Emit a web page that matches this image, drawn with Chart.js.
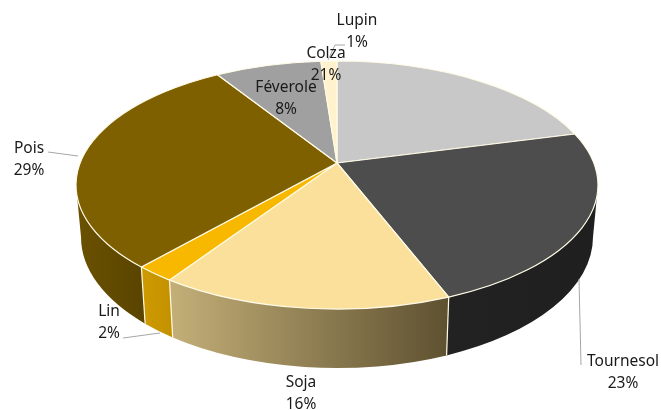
<!DOCTYPE html>
<html>
<head>
<meta charset="utf-8">
<style>
html, body { margin: 0; padding: 0; background: #fff; }
</style>
<script src="https://cdn.jsdelivr.net/npm/chart.js@4"></script>
</head>
<body>
<canvas id="pie" width="661" height="410"></canvas>
<script>
// values start at 12 o'clock and go clockwise
var categories = ['Colza', 'Tournesol', 'Soja', 'Lin', 'Pois', 'Féverole', 'Lupin'];
var shares = [21, 23, 15.5, 2.1, 29.3, 7.9, 1.2];
var topColors = ['#c8c8c8', '#4d4d4d', '#fae09a', '#f8b800', '#7f6000', '#a0a0a0', '#fff2cc'];
var wallLeft = ['#8c8c8c', '#222222', '#c4af78', '#cf9a00', '#6b5100', '#707070', '#b2a98e'];
var wallRight = ['#8c8c8c', '#1f1f1f', '#5e5130', '#c49200', '#5a4400', '#707070', '#b2a98e'];

// label placement, [x of centre, y of first line], same order as categories
var labelAt = [[326, 53.5], [623, 361.5], [301, 382.5], [109, 311.5], [29, 148.5], [286, 87.5], [357, 20.5]];
var leaders = [
    [[345, 45], [335, 45], [328, 60]],
    [[48, 152], [78, 156]],
    [[123, 338], [160, 333]],
    [[579, 279], [581, 365]]
];

// projection of the pie: top rim, bottom rim and the point where the slices meet
var top3d = { x: 337, y: 185, rx: 261, ry: 124 };
var bottom3d = { x: 337, y: 237, rx: 256, ry: 131 };
var apexY = 163;

// where a ray from the apex hits the rim, as an ellipse parameter
function rimAngle(a) {
    var k = (top3d.y - apexY) / top3d.ry;
    var dx = Math.cos(a), dy = Math.sin(a);
    var t = k * dy + Math.sqrt(k * k * dy * dy - k * k + 1);
    return Math.atan2(t * dy - k, t * dx);
}

function unwrap(from, to) {
    while (to <= from) to += Math.PI * 2;
    return to;
}

function rimPoint(e, a) {
    return [e.x + e.rx * Math.cos(a), e.y + e.ry * Math.sin(a)];
}

var pie3d = {
    id: 'pie3d',
    beforeDatasetsDraw: function(chart) {
        var ctx = chart.ctx;
        var arcs = chart.getDatasetMeta(0).data;
        var slices = arcs.map(function(arc, i) {
            var s = rimAngle(arc.startAngle);
            if (s < -Math.PI / 2 - 0.001) s += Math.PI * 2;
            return { i: i, from: s, to: unwrap(s, rimAngle(arc.endAngle)), color: arc.options.backgroundColor };
        });

        ctx.save();
        ctx.strokeStyle = '#fffbe6';
        ctx.lineWidth = 1.2;
        ctx.lineJoin = 'round';

        // side wall, only the part of the rim that faces us
        slices.forEach(function(s) {
            var a = Math.max(s.from, 0), b = Math.min(s.to, Math.PI);
            if (b <= a) return;
            var xa = top3d.x + top3d.rx * Math.cos(a), xb = top3d.x + top3d.rx * Math.cos(b);
            var g = ctx.createLinearGradient(Math.min(xa, xb), 0, Math.max(xa, xb), 0);
            g.addColorStop(0, wallLeft[s.i]);
            g.addColorStop(1, wallRight[s.i]);
            ctx.beginPath();
            ctx.ellipse(top3d.x, top3d.y, top3d.rx, top3d.ry, 0, a, b);
            ctx.ellipse(bottom3d.x, bottom3d.y, bottom3d.rx, bottom3d.ry, 0, b, a, true);
            ctx.closePath();
            ctx.fillStyle = g;
            ctx.fill();
        });

        // pale seams between the walls
        slices.forEach(function(s) {
            if (s.to <= 0 || s.to >= Math.PI) return;
            var p = rimPoint(top3d, s.to), q = rimPoint(bottom3d, s.to);
            ctx.beginPath();
            ctx.moveTo(p[0], p[1]);
            ctx.lineTo(q[0], q[1]);
            ctx.stroke();
        });

        // top face
        slices.forEach(function(s) {
            ctx.beginPath();
            ctx.moveTo(top3d.x, apexY);
            ctx.ellipse(top3d.x, top3d.y, top3d.rx, top3d.ry, 0, s.from, s.to);
            ctx.closePath();
            ctx.fillStyle = s.color;
            ctx.fill();
            ctx.stroke();
        });

        // leader lines
        ctx.strokeStyle = '#a6a6a6';
        ctx.lineWidth = 1;
        leaders.forEach(function(line) {
            ctx.beginPath();
            line.forEach(function(p, n) {
                if (n === 0) ctx.moveTo(p[0], p[1]);
                else ctx.lineTo(p[0], p[1]);
            });
            ctx.stroke();
        });

        // labels
        ctx.fillStyle = '#1a1a1a';
        ctx.font = '15.5px "Noto Sans"';
        ctx.textAlign = 'center';
        ctx.textBaseline = 'middle';
        categories.forEach(function(name, i) {
            ctx.fillText(name, labelAt[i][0], labelAt[i][1]);
            ctx.fillText(Math.round(shares[i]) + '%', labelAt[i][0], labelAt[i][1] + 22);
        });
        ctx.restore();
        return false;
    }
};

new Chart(document.getElementById('pie'), {
    type: 'pie',
    data: {
        labels: categories,
        datasets: [{ data: shares, backgroundColor: topColors, borderWidth: 0 }]
    },
    options: {
        responsive: false,
        animation: false,
        plugins: { legend: { display: false }, tooltip: { enabled: false } }
    },
    plugins: [pie3d]
});
</script>
</body>
</html>
